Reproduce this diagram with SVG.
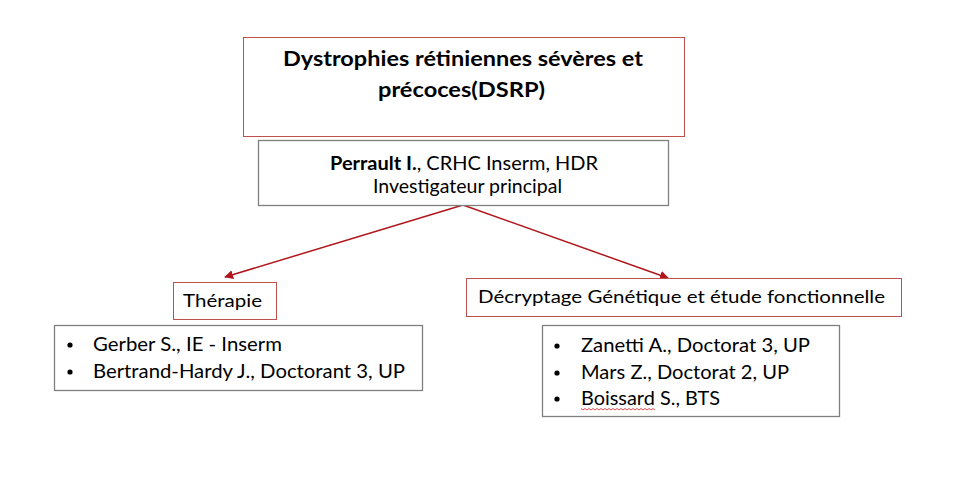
<svg xmlns="http://www.w3.org/2000/svg" width="964" height="484" viewBox="0 0 964 484">
<style>
text{font-family:Lato,"Open Sans","Liberation Sans",sans-serif;fill:#000}
.t{font-size:20px;font-weight:bold}
.m{font-size:19px}
.h{font-size:18px}
.l{font-size:20px}
.red{fill:#fff;stroke:#c0504d;stroke-width:1}
.gray{fill:#fff;stroke:#808080;stroke-width:1.3}
.arr{stroke:#b0161b;stroke-width:1.5;fill:none}
</style>
<defs>
<marker id="ah" viewBox="0 0 10 10" refX="9" refY="5" markerWidth="9" markerHeight="9" markerUnits="userSpaceOnUse" orient="auto">
<path d="M0,0 L10,5 L0,10 z" fill="#b0161b"/>
</marker>
</defs>
<rect width="964" height="484" fill="#fff"/>
<g id="connectors">
<line class="arr" x1="463" y1="205" x2="225" y2="277" marker-end="url(#ah)"/>
<line class="arr" x1="463" y1="205" x2="668" y2="278" marker-end="url(#ah)"/>
</g>
<g id="title">
<rect class="red" x="243.5" y="37.5" width="441" height="99"/>
<text class="t" x="463" y="66" text-anchor="middle" textLength="360" lengthAdjust="spacingAndGlyphs">Dystrophies rétiniennes sévères et</text>
<text class="t" x="461.5" y="97" text-anchor="middle" textLength="167" lengthAdjust="spacingAndGlyphs">précoces(DSRP)</text>
</g>
<g id="perrault">
<rect class="gray" x="258.5" y="140.5" width="410" height="65"/>
<text class="m" x="330" y="170" textLength="268" lengthAdjust="spacingAndGlyphs"><tspan font-weight="bold">Perrault I.</tspan>, CRHC Inserm, HDR</text>
<text class="m" x="373" y="193" textLength="189" lengthAdjust="spacingAndGlyphs">Investigateur principal</text>
</g>
<g id="therapie">
<rect class="red" x="173.5" y="282.5" width="103" height="37"/>
<text class="h" x="183" y="307" textLength="79" lengthAdjust="spacingAndGlyphs">Thérapie</text>
</g>
<g id="therapie-list">
<rect class="gray" x="54.5" y="325.5" width="368" height="65"/>
<circle cx="70" cy="345" r="2.6"/>
<circle cx="70" cy="372" r="2.6"/>
<text class="l" x="93" y="351" textLength="189" lengthAdjust="spacingAndGlyphs">Gerber S., IE - Inserm</text>
<text class="l" x="93" y="378" textLength="312" lengthAdjust="spacingAndGlyphs">Bertrand-Hardy J., Doctorant 3, UP</text>
</g>
<g id="decryptage">
<rect class="red" x="466.5" y="278.5" width="435" height="38"/>
<text class="h" x="478" y="303" textLength="407" lengthAdjust="spacingAndGlyphs">Décryptage Génétique et étude fonctionnelle</text>
</g>
<g id="decryptage-list">
<rect class="gray" x="542.5" y="325.5" width="297" height="91"/>
<circle cx="557" cy="346" r="2.6"/>
<circle cx="557" cy="373" r="2.6"/>
<circle cx="557" cy="399" r="2.6"/>
<text class="l" x="581" y="352" textLength="229" lengthAdjust="spacingAndGlyphs">Zanetti A., Doctorat 3, UP</text>
<text class="l" x="581" y="379" textLength="208" lengthAdjust="spacingAndGlyphs">Mars Z., Doctorat 2, UP</text>
<text class="l" x="581" y="405" textLength="139" lengthAdjust="spacingAndGlyphs">Boissard S., BTS</text>
<path d="M581,408.5 l2,1.5 l2,-1.5 l2,1.5 l2,-1.5 l2,1.5 l2,-1.5 l2,1.5 l2,-1.5 l2,1.5 l2,-1.5 l2,1.5 l2,-1.5 l2,1.5 l2,-1.5 l2,1.5 l2,-1.5 l2,1.5 l2,-1.5 l2,1.5 l2,-1.5 l2,1.5 l2,-1.5 l2,1.5 l2,-1.5 l2,1.5 l2,-1.5 l2,1.5 l2,-1.5 l2,1.5 l2,-1.5 l2,1.5 l2,-1.5 l2,1.5 l2,-1.5 l2,1.5 l2,-1.5 l2,1.5" fill="none" stroke="#e02020" stroke-width="0.8"/>
</g>
</svg>
